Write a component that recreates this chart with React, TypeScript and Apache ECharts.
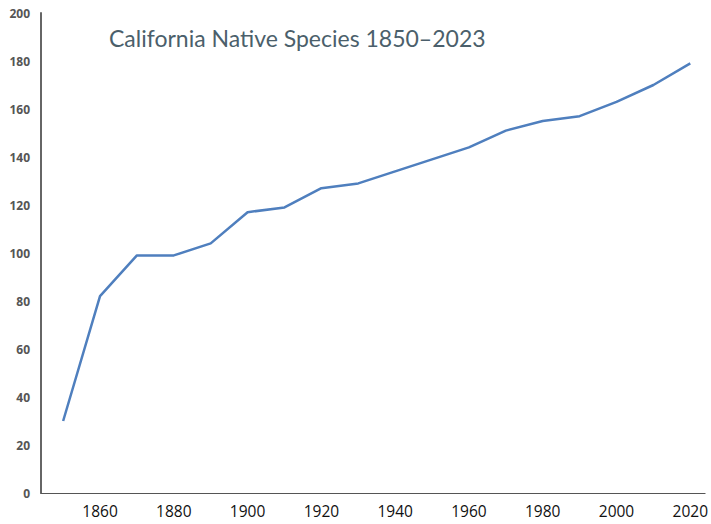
import React, { useEffect, useRef } from "react";
import * as echarts from "echarts";

const years = [1850, 1860, 1870, 1880, 1890, 1900, 1910, 1920, 1930, 1940, 1950, 1960, 1970, 1980, 1990, 2000, 2010, 2020];
const species = [30, 82, 99, 99, 104, 117, 119, 127, 129, 134, 139, 144, 151, 155, 157, 163, 170, 179];
const xTickLabels = [1860, 1880, 1900, 1920, 1940, 1960, 1980, 2000, 2020];
const title = "California Native Species 1850\u20132023";

export default function App() {
  const ref = useRef<HTMLDivElement>(null);
  useEffect(() => {
    if (!ref.current) return;
    const chart = echarts.init(ref.current, null, { renderer: "svg" });
    chart.setOption({
      animation: false,
      backgroundColor: "#ffffff",
      title: {
        text: title,
        left: 104,
        top: 21,
        textStyle: { fontFamily: "Lato", fontSize: 23, fontWeight: "normal", color: "#4b5f6b" },
      },
      grid: { left: 41, top: 13, right: 3, bottom: 31, containLabel: false },
      xAxis: {
        type: "value",
        min: 1844,
        max: 2024,
        axisLine: { show: true, lineStyle: { color: "#555", width: 1.2 } },
        axisTick: { show: false },
        splitLine: { show: false },
        axisLabel: {
          customValues: xTickLabels,
          margin: 10,
          color: "#111",
          fontSize: 15.5,
          fontFamily: "Open Sans",
          formatter: (v: number) => String(v),
        },
      },
      yAxis: {
        type: "value",
        min: 0,
        max: 200,
        interval: 20,
        axisLine: { show: true, lineStyle: { color: "#666", width: 2 } },
        axisTick: { show: false },
        splitLine: { show: false },
        axisLabel: {
          margin: 11,
          color: "#555",
          fontSize: 12,
          fontWeight: "bold",
          fontFamily: "Open Sans",
        },
      },
      series: [
        {
          type: "line",
          data: years.map((y, i) => [y, species[i]]),
          showSymbol: false,
          lineStyle: { color: "#4f7fbe", width: 2.5 },
        },
      ],
    });
    return () => chart.dispose();
  }, []);
  return <div ref={ref} style={{ width: 711, height: 524, position: "absolute", left: 0, top: 0 }} />;
}
